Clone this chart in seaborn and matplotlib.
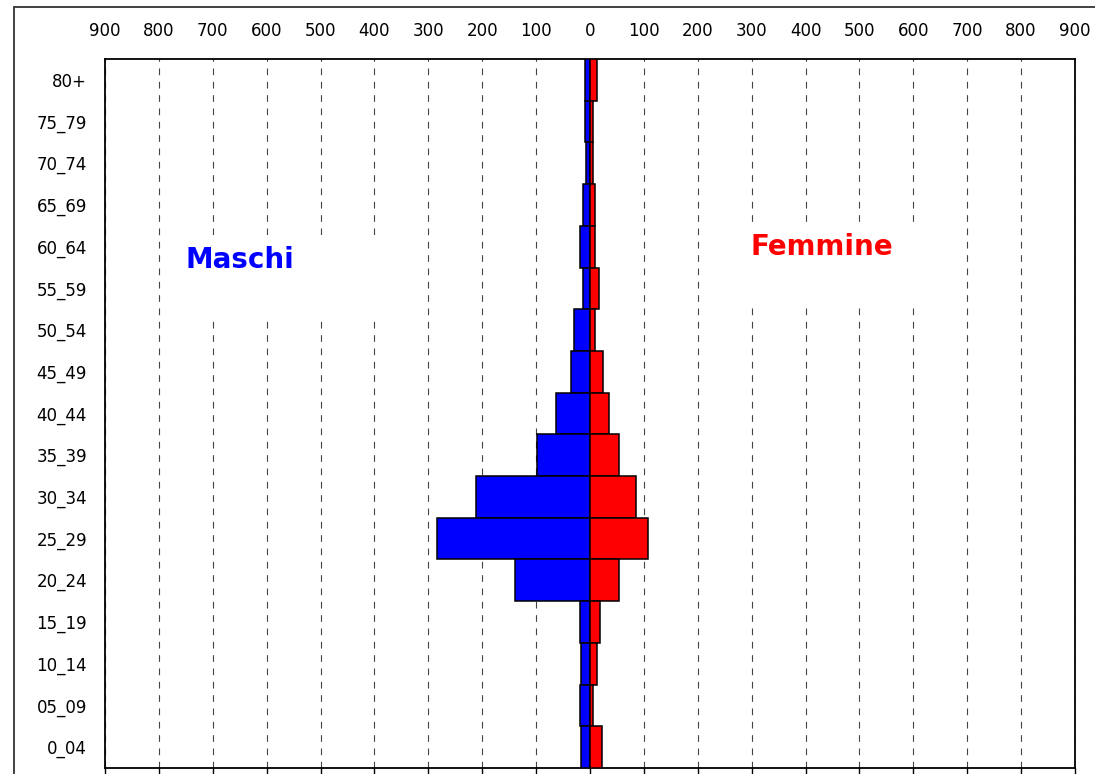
import matplotlib
matplotlib.use("Agg")
import matplotlib.pyplot as plt
import matplotlib.patches as mpatches
from matplotlib.ticker import FuncFormatter
import seaborn as sns
import pandas as pd

# age classes, top to bottom
classi = ["80+", "75_79", "70_74", "65_69", "60_64", "55_59", "50_54", "45_49",
          "40_44", "35_39", "30_34", "25_29", "20_24", "15_19", "10_14", "05_09", "0_04"]
maschi = [9, 10, 7, 13, 19, 13, 29, 35, 63, 98, 212, 283, 139, 18, 16, 18, 16]
femmine = [13, 6, 6, 10, 10, 16, 10, 25, 35, 54, 86, 108, 54, 19, 13, 6, 22]
x_ticks = list(range(-900, 901, 100))

df = pd.concat([
    pd.DataFrame({"classe": classi, "valore": [-v for v in maschi], "sesso": "Maschi"}),
    pd.DataFrame({"classe": classi, "valore": femmine, "sesso": "Femmine"}),
])

sns.set_style("white")
plt.rcParams["font.family"] = ["DejaVu Sans"]
plt.rcParams["text.color"] = "black"
plt.rcParams["xtick.color"] = "black"
plt.rcParams["ytick.color"] = "black"

fig = plt.figure(figsize=(10.95, 7.74), dpi=100)
ax = fig.add_axes([105 / 1095, 6 / 774, 970 / 1095, 709 / 774])

# outer frame of the picture
fig.patches.append(mpatches.Rectangle((14 / 1095, -0.1), 2, 1.1 - 7 / 774,
                                      transform=fig.transFigure, fill=False,
                                      edgecolor="#333333", linewidth=1.3))

sns.barplot(data=df, x="valore", y="classe", hue="sesso", order=classi,
            palette={"Maschi": "#0000ff", "Femmine": "#ff0000"}, saturation=1,
            dodge=False, width=1.0, orient="h", edgecolor="black", linewidth=1.1,
            legend=False, ax=ax, zorder=3)

ax.set_xlim(-900, 900)
ax.set_xticks(x_ticks)
ax.xaxis.set_major_formatter(FuncFormatter(lambda v, p: f"{abs(int(v))}"))
ax.xaxis.tick_top()
ax.tick_params(axis="x", which="both", top=False, bottom=True, labeltop=True,
               labelbottom=False, direction="out", length=6, width=1,
               color="black", labelcolor="black", labelsize=12, pad=8)
ax.tick_params(axis="y", length=0, labelsize=12, pad=13, labelcolor="black")
ax.set_xlabel("")
ax.set_ylabel("")

ax.xaxis.grid(True, color="#444444", linestyle=(0, (6, 6)), linewidth=0.8, zorder=0)
ax.yaxis.grid(False)
ax.set_axisbelow(True)
for s in ax.spines.values():
    s.set_visible(True)
    s.set_color("black")
    s.set_linewidth(1.3)

# white boxes behind the labels
ax.add_patch(mpatches.Rectangle((0.062, 0.632), 0.242, 0.120, transform=ax.transAxes,
                                facecolor="white", edgecolor="none", zorder=1))
ax.add_patch(mpatches.Rectangle((0.655, 0.656), 0.206, 0.106, transform=ax.transAxes,
                                facecolor="white", edgecolor="none", zorder=1))
ax.text(0.0825, 0.7165, "Maschi", transform=ax.transAxes, color="#0000ff",
        fontsize=20, fontweight="bold", va="center", ha="left", zorder=4)
ax.text(0.665, 0.735, "Femmine", transform=ax.transAxes, color="#ff0000",
        fontsize=20, fontweight="bold", va="center", ha="left", zorder=4)

fig.savefig("out.png", dpi=100)
